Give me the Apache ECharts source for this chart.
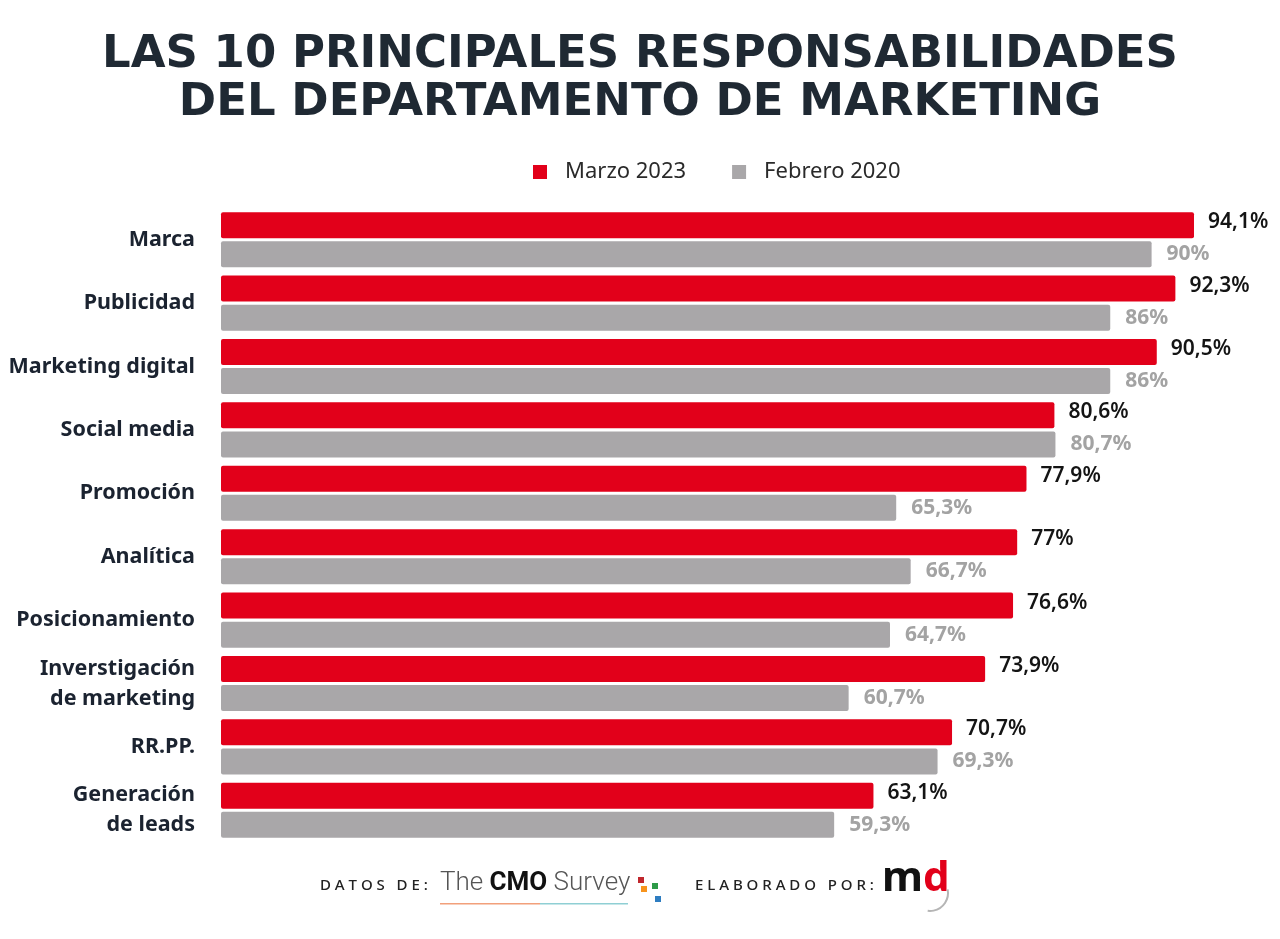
<!DOCTYPE html>
<html>
<head>
<meta charset="utf-8">
<script src="https://cdn.jsdelivr.net/npm/echarts@6/dist/echarts.min.js"></script>
<style>
html,body{margin:0;padding:0;background:#fff;}
#chart{width:1280px;height:939px;}
</style>
</head>
<body>
<div id="chart"></div>
<script>
const categories = ['Marca','Publicidad','Marketing digital','Social media','Promoción','Analítica','Posicionamiento','Inverstigación\nde marketing','RR.PP.','Generación\nde leads'];
const marzo2023 = [94.1, 92.3, 90.5, 80.6, 77.9, 77, 76.6, 73.9, 70.7, 63.1];
const febrero2020 = [90, 86, 86, 80.7, 65.3, 66.7, 64.7, 60.7, 69.3, 59.3];
const seriesNames = ['Marzo 2023','Febrero 2020'];

const fmt = v => String(v).replace('.', ',') + '%';
const chart = echarts.init(document.getElementById('chart'));
chart.setOption({
  backgroundColor: '#ffffff',
  animation: false,
  title: {
    text: 'LAS 10 PRINCIPALES RESPONSABILIDADES\nDEL DEPARTAMENTO DE MARKETING',
    left: 'center',
    top: 26,
    textStyle: {
      fontFamily: 'DejaVu Sans',
      fontWeight: 'bold',
      fontSize: 45,
      lineHeight: 48,
      color: '#1f2933',
      align: 'center'
    }
  },
  legend: {
    data: seriesNames,
    top: 156,
    left: 528,
    icon: 'rect',
    itemWidth: 14,
    itemHeight: 14,
    itemGap: 46,
    textStyle: { fontFamily: 'Noto Sans', fontSize: 22, color: '#2a2a2a', padding: [0,0,0,13] }
  },
  grid: { left: 221, right: 25, top: 208, bottom: 97, containLabel: false },
  xAxis: {
    type: 'value', min: 0, max: 100,
    show: false
  },
  yAxis: {
    type: 'category',
    data: categories,
    inverse: true,
    axisLine: { show: false },
    axisTick: { show: false },
    axisLabel: {
      margin: 26,
      fontFamily: 'Noto Sans',
      fontWeight: 'bold',
      fontSize: 21.5,
      lineHeight: 30,
      color: '#1b2330'
    }
  },
  series: [
    {
      name: seriesNames[0],
      type: 'bar',
      data: marzo2023,
      barWidth: 26,
      barGap: '12%',
      itemStyle: { color: '#e2001a', borderRadius: 2 },
      label: {
        show: true, position: 'right', distance: 14,
        formatter: p => fmt(p.value),
        fontFamily: 'Noto Sans', fontWeight: 600, fontSize: 21, color: '#141414',
        offset: [0, -3]
      }
    },
    {
      name: seriesNames[1],
      type: 'bar',
      data: febrero2020,
      barWidth: 26,
      itemStyle: { color: '#a9a7a9', borderRadius: 2 },
      label: {
        show: true, position: 'right', distance: 15,
        formatter: p => fmt(p.value),
        fontFamily: 'Noto Sans', fontWeight: 'bold', fontSize: 21, color: '#a3a3a3'
      }
    }
  ],
  graphic: [
    { type: 'text', left: 320, top: 878, style: { text: 'D A T O S   D E :', font: '500 15px "Noto Sans"', fill: '#222' } },
    { type: 'text', left: 440, top: 870, style: {
        text: '{a|The }{b|CMO}{a| Survey}',
        rich: {
          a: { fontFamily: 'Roboto', fontWeight: 300, fontSize: 26, fill: '#555' },
          b: { fontFamily: 'Roboto', fontWeight: 'bold', fontSize: 26, fill: '#111' }
        }
    } },
    { type: 'rect', shape: { x: 440, y: 903, width: 100, height: 1.5 }, style: { fill: '#f2a07b' } },
    { type: 'rect', shape: { x: 540, y: 903, width: 88, height: 1.5 }, style: { fill: '#8fcfd4' } },
    { type: 'rect', shape: { x: 638, y: 877, width: 6, height: 6 }, style: { fill: '#c0272d' } },
    { type: 'rect', shape: { x: 641, y: 886, width: 6, height: 6 }, style: { fill: '#f7941d' } },
    { type: 'rect', shape: { x: 652, y: 883, width: 6, height: 6 }, style: { fill: '#2e9b48' } },
    { type: 'rect', shape: { x: 655, y: 896, width: 6, height: 6 }, style: { fill: '#2e7dc1' } },
    { type: 'text', left: 695, top: 878, style: { text: 'E L A B O R A D O   P O R :', font: '500 15px "Noto Sans"', fill: '#222' } },
    { type: 'text', left: 882, top: 858, style: {
        text: '{m|m}{d|d}',
        rich: {
          m: { fontFamily: 'Noto Sans', fontWeight: 'bold', fontSize: 42, fill: '#111' },
          d: { fontFamily: 'Noto Sans', fontWeight: 'bold', fontSize: 42, fill: '#e2001a' }
        }
    } },
    { type: 'arc', shape: { cx: 930, cy: 893, r: 18, startAngle: -0.2, endAngle: 1.7 }, style: { stroke: '#b5b5b5', lineWidth: 2, fill: null } }
  ]
});
</script>
</body>
</html>
